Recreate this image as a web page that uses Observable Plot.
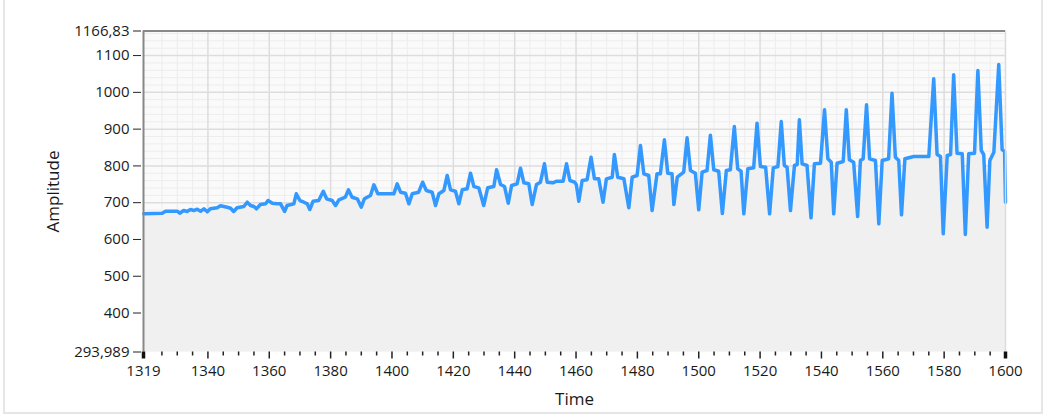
<!DOCTYPE html>
<html>
<head>
<meta charset="utf-8">
<script src="https://cdn.jsdelivr.net/npm/d3@7"></script>
<script src="https://cdn.jsdelivr.net/npm/@observablehq/plot@0.6"></script>
<style>
  html, body { margin: 0; padding: 0; background: #ffffff; overflow: hidden; }
  #panel { position: absolute; left: 3px; top: -2px; width: 1040px; height: 416px; border: 2px solid #e6e6e6; box-sizing: border-box; }
  #chart { position: absolute; left: 0; top: 0; }
</style>
</head>
<body>
<div id="panel"></div>
<div id="chart"></div>
<script>
// Axis extents and tick labels (as shown on the chart)
const xMin = 1319, xMax = 1600;
const yMin = 293.989, yMax = 1166.83;
const xTicks = [1319, 1340, 1360, 1380, 1400, 1420, 1440, 1460, 1480, 1500, 1520, 1540, 1560, 1580, 1600];
const yTicks = [293.989, 400, 500, 600, 700, 800, 900, 1000, 1100, 1166.83];
const yTickLabels = ["293,989", "400", "500", "600", "700", "800", "900", "1000", "1100", "1166,83"];

// Signal vertices
const time = [
  1319.1, 1325.1, 1326.2, 1330.0, 1330.8, 1332.1, 1333.2, 1334.3, 1335.4, 1336.5,
  1337.6, 1338.7, 1339.8, 1340.8, 1343.0, 1344.1, 1346.3, 1347.4, 1348.4, 1349.5,
  1351.7, 1352.8, 1353.9, 1355.0, 1355.8, 1357.1, 1358.8, 1359.6, 1361.0, 1362.6,
  1363.7, 1365.0, 1365.8, 1368.0, 1368.8, 1370.0, 1371.3, 1372.4, 1373.2, 1374.3,
  1376.1, 1377.6, 1378.7, 1380.5, 1381.6, 1382.7, 1384.8, 1385.8, 1387.0, 1388.7,
  1390.0, 1391.0, 1393.0, 1394.1, 1395.4, 1400.6, 1401.7, 1402.8, 1404.4, 1405.5,
  1406.6, 1408.7, 1410.0, 1411.2, 1413.1, 1414.2, 1415.3, 1416.9, 1418.0, 1419.1,
  1420.7, 1421.8, 1422.9, 1424.5, 1425.6, 1426.7, 1428.3, 1429.9, 1431.2, 1433.2,
  1434.1, 1435.4, 1436.7, 1437.9, 1439.0, 1440.8, 1441.9, 1443.0, 1444.6, 1445.7,
  1447.1, 1448.4, 1449.7, 1450.6, 1452.5, 1453.6, 1455.8, 1456.9, 1458.0, 1459.5,
  1460.1, 1460.9, 1462.0, 1463.6, 1464.9, 1466.0, 1467.4, 1468.8, 1469.9, 1471.8,
  1472.5, 1473.6, 1475.6, 1477.2, 1478.3, 1479.9, 1481.0, 1482.1, 1483.7, 1484.8,
  1486.4, 1487.5, 1488.8, 1489.9, 1491.3, 1491.9, 1493.0, 1495.1, 1496.2, 1497.3,
  1498.9, 1500.0, 1501.1, 1502.7, 1503.8, 1504.9, 1506.5, 1507.7, 1509.0, 1510.3,
  1511.6, 1512.7, 1513.8, 1514.7, 1516.0, 1517.9, 1519.0, 1520.1, 1521.8, 1523.1,
  1524.3, 1525.8, 1526.9, 1527.9, 1528.8, 1529.9, 1531.2, 1532.1, 1532.8, 1533.7,
  1535.3, 1536.6, 1537.7, 1539.7, 1541.0, 1542.1, 1543.2, 1544.0, 1545.1, 1547.1,
  1548.1, 1549.1, 1550.5, 1551.8, 1552.7, 1553.6, 1554.7, 1555.7, 1557.6, 1558.7,
  1559.8, 1561.9, 1563.0, 1564.1, 1565.2, 1566.1, 1567.2, 1568.5, 1570.1, 1575.0,
  1576.6, 1577.7, 1578.8, 1579.7, 1581.0, 1582.1, 1583.1, 1584.2, 1585.9, 1586.9,
  1588.0, 1589.9, 1591.0, 1592.1, 1592.9, 1594.0, 1594.9, 1596.2, 1597.8, 1598.9,
  1599.7, 1600.0
];
const amplitude = [
  669.7, 671.4, 676.8, 676.8, 671.4, 678.7, 676.0, 681.4, 678.7, 682.3,
  676.8, 683.3, 675.2, 683.3, 686.1, 691.5, 687.7, 685.0, 676.0, 686.1,
  689.6, 701.3, 692.3, 689.6, 683.3, 695.0, 696.9, 705.9, 698.6, 696.9,
  696.9, 676.0, 692.3, 696.9, 724.1, 705.9, 701.3, 696.9, 681.4, 704.0,
  705.9, 731.2, 710.5, 705.9, 692.3, 707.8, 714.9, 735.0, 714.9, 710.5,
  687.7, 710.5, 719.5, 748.6, 724.1, 724.1, 751.3, 728.5, 725.8, 696.9,
  724.1, 728.5, 755.7, 733.1, 728.5, 692.3, 724.1, 733.1, 773.9, 735.0,
  731.2, 696.9, 735.0, 737.7, 780.1, 744.0, 740.4, 692.3, 740.4, 744.0,
  789.4, 749.4, 744.0, 698.6, 746.7, 751.3, 793.7, 754.0, 751.3, 695.0,
  749.4, 755.7, 805.7, 755.7, 754.0, 758.4, 758.4, 805.7, 760.3, 755.7,
  749.4, 704.0, 760.3, 762.2, 823.6, 764.9, 764.9, 701.3, 764.9, 769.3,
  831.0, 769.3, 764.9, 686.1, 769.3, 773.9, 855.5, 778.5, 773.9, 678.7,
  778.5, 778.5, 870.9, 780.1, 778.5, 695.0, 769.3, 782.9, 876.4, 787.5,
  780.1, 680.6, 782.9, 787.5, 883.5, 789.4, 785.6, 670.6, 787.5, 789.4,
  907.1, 792.1, 785.6, 669.7, 792.1, 794.8, 916.1, 798.4, 796.5, 669.7,
  794.8, 798.4, 920.7, 801.1, 796.5, 678.7, 801.1, 803.8, 925.3, 805.7,
  801.1, 658.9, 805.7, 807.3, 952.5, 819.3, 810.1, 669.7, 807.3, 812.0,
  952.5, 816.6, 810.1, 662.4, 814.7, 819.3, 966.1, 819.3, 814.7, 642.6,
  814.7, 819.3, 997.7, 823.6, 814.7, 667.0, 819.3, 822.0, 825.5, 825.5,
  1036.8, 831.0, 825.5, 615.4, 828.3, 831.0, 1047.7, 834.5, 832.9, 613.5,
  832.9, 834.5, 1059.4, 841.9, 831.0, 633.3, 814.7, 837.2, 1075.7, 843.8,
  840.0, 701.3
];

const data = time.map((t, i) => ({t, a: amplitude[i]}));

const minorX = d3.range(1325, 1600, 5).filter(v => v % 20 !== 0);
const majorX = xTicks.filter(v => v !== xMin && v !== xMax);
const minorY = d3.range(300, yMax, 20).filter(v => v % 100 !== 0);
const majorY = yTicks.filter(v => v !== yMin && v !== yMax);

const chart = Plot.plot({
  width: 1056,
  height: 420,
  marginLeft: 143,
  marginRight: 51,
  marginTop: 30.5,
  marginBottom: 68.5,
  x: {domain: [xMin, xMax]},
  y: {domain: [yMin, yMax]},
  style: {fontFamily: "'Open Sans', 'Noto Sans', sans-serif", fontSize: "15px", color: "#1a1a1a", background: "transparent", overflow: "visible"},
  marks: [
    Plot.frame({fill: "#fafafa", stroke: null}),
    Plot.gridX(minorX, {stroke: "#ededed", strokeOpacity: 1, strokeWidth: 1}),
    Plot.gridY(minorY, {stroke: "#ededed", strokeOpacity: 1, strokeWidth: 1}),
    Plot.gridX(majorX, {stroke: "#dddddd", strokeOpacity: 1, strokeWidth: 1.5}),
    Plot.gridY(majorY, {stroke: "#dddddd", strokeOpacity: 1, strokeWidth: 1.5}),
    Plot.areaY(data, {x: "t", y1: yMin, y2: "a", fill: "#f0f0f0"}),
    Plot.lineY(data, {x: "t", y: "a", stroke: "#3399ff", strokeWidth: 3.5, strokeLinejoin: "round"}),
    Plot.ruleX([xMax], {stroke: "#dcdcdc", strokeWidth: 1.5}),
    Plot.ruleY([yMax], {stroke: "#888888", strokeWidth: 2}),
    Plot.ruleX([xMin], {stroke: "#888888", strokeWidth: 2}),
    Plot.axisY({ticks: yTicks, tickFormat: d => yTickLabels[yTicks.indexOf(d)], tickSize: 8, tickPadding: 4, dx: -2,
      label: null, stroke: "#222", fontSize: 15}),
    Plot.axisY({ticks: [], label: "Amplitude", labelAnchor: "center", labelArrow: "none", labelOffset: 97, fontSize: 17}),
    Plot.axisX({ticks: minorX, tickSize: 4, text: null, label: null, stroke: "#222", strokeWidth: 1.5}),
    Plot.axisX({ticks: majorX, tickSize: 7, text: null, label: null, stroke: "#222", strokeWidth: 1.5}),
    Plot.axisX({ticks: [xMin, xMax], tickSize: 7, text: null, label: null, stroke: "#111", strokeWidth: 3.5}),
    Plot.axisX({ticks: xTicks, tickSize: 7, tickPadding: 6, tickFormat: d => String(d), stroke: null, label: null, fontSize: 15}),
    Plot.axisX({ticks: [], label: "Time", labelAnchor: "center", labelArrow: "none", labelOffset: 53, fontSize: 17})
  ]
});
document.getElementById("chart").appendChild(chart);
</script>
</body>
</html>
